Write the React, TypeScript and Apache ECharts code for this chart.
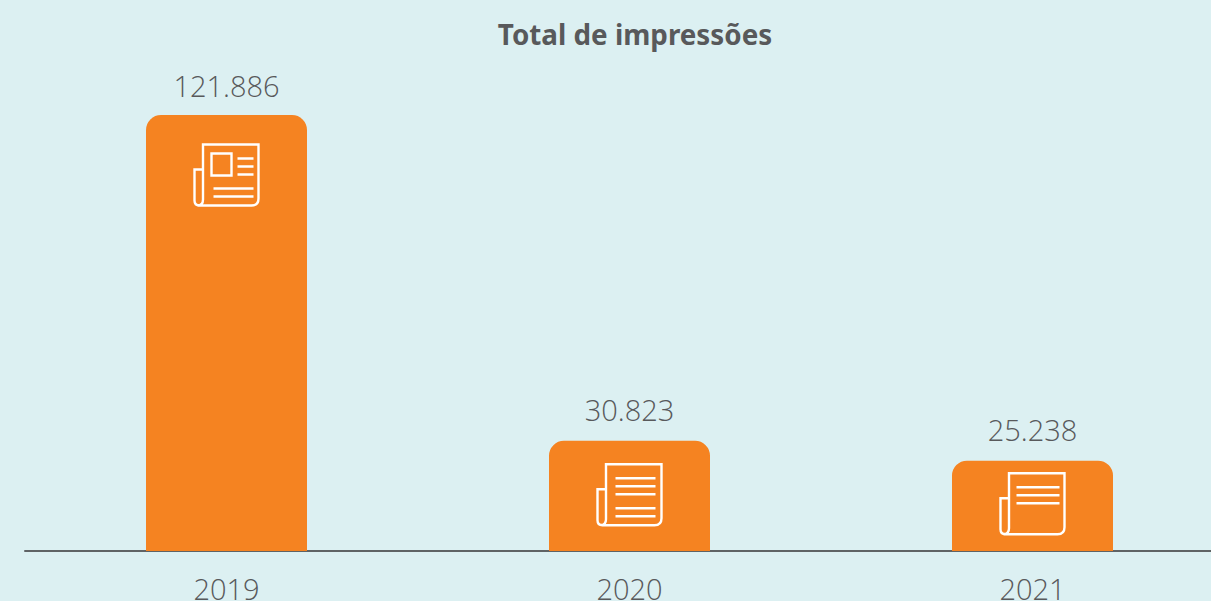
import React, { useEffect, useRef } from "react";
import * as echarts from "echarts";

const titleText = "Total de impressões";
const years = ["2019", "2020", "2021"];
const impressions = [121886, 30823, 25238];

// Icons, drawn in a 64×61 box: the newspaper differs per year
const outline = "M8.5 25V0H64V54Q64 61 57 61H5Q0 61 0 56V25H8.5M8.5 25V55Q8.5 61 3 61";
const iconLines = [
  outline + "M17 9H37V31H17ZM43 14H59M43 22H59M43 30H59M19 44H59M19 52H59",
  outline + "M18 14H58M18 22H58M18 30H58M18 44H58M18 52H58",
  outline + "M16 14H59M16 22H59M16 30H59",
];
const iconTopOffset = [29.5, 23.5, 12.5];
const labelDistance = [15, 17, 17];

const textColor = "#58595b";
const orange = "#f58321";
const background = "#dcf0f2";
const fontFamily = '"Open Sans", sans-serif';

const formatBR = (n: number) => String(n).replace(/\B(?=(\d{3})+$)/g, ".");

export default function App() {
  const ref = useRef<HTMLDivElement>(null);
  useEffect(() => {
    document.body.style.margin = "0";
    document.body.style.overflow = "hidden";
    const chart = echarts.init(ref.current!, undefined, { renderer: "svg" });
    chart.setOption({
      animation: false,
      backgroundColor: background,
      title: {
        text: titleText,
        left: 630,
        top: 15,
        textAlign: "center",
        textStyle: { color: textColor, fontFamily: '"Noto Sans", sans-serif', fontWeight: 700, fontSize: 27.8 },
      },
      grid: { left: 25, top: 115, width: 1209, height: 436, outerBoundsMode: "none", containLabel: false },
      xAxis: {
        type: "category",
        data: years,
        axisTick: { show: false },
        axisLine: { lineStyle: { color: "#5f6365", width: 2 } },
        axisLabel: { color: textColor, fontFamily, fontWeight: 300, fontSize: 29, lineHeight: 22, margin: 26 },
      },
      yAxis: { type: "value", min: 0, max: impressions[0], show: false },
      series: [
        {
          type: "bar",
          data: impressions.map((value, i) => ({ value, label: { distance: labelDistance[i] } })),
          barWidth: 161,
          itemStyle: { color: orange, borderRadius: [15, 15, 0, 0] },
          label: {
            show: true,
            position: "top",
            color: textColor,
            fontFamily,
            fontWeight: 300,
            fontSize: 29,
            formatter: (p: any) => formatBR(p.value),
          },
        },
        {
          type: "custom",
          z: 5,
          silent: true,
          encode: { x: 0, y: 1 },
          data: years.map((y, i) => [y, impressions[i]]),
          renderItem: (params: any, api: any) => {
            const i = params.dataIndex;
            const [cx, top] = api.coord([api.value(0), api.value(1)]);
            return {
              type: "path",
              shape: {
                pathData: iconLines[i],
                layout: "cover",
                x: cx - 32,
                y: top + iconTopOffset[i],
                width: 64,
                height: 61,
              },
              style: { fill: "none", stroke: "#ffffff", lineWidth: 2.4 },
            };
          },
        },
      ],
    });
    return () => chart.dispose();
  }, []);
  return <div ref={ref} style={{ width: 1211, height: 601 }} />;
}
